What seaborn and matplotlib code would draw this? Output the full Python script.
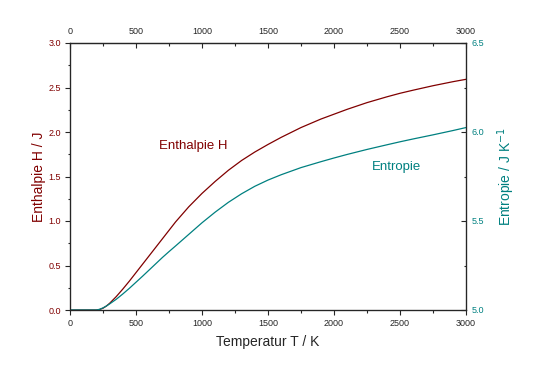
import seaborn as sns
import matplotlib.pyplot as plt
import pandas as pd
from matplotlib.ticker import MultipleLocator, FixedLocator

# values
temperatur = [0, 100, 200, 225, 250, 275, 300, 350, 400, 450, 500, 550, 600, 650,
              700, 750, 800, 900, 1000, 1100, 1200, 1300, 1400, 1500, 1600, 1750,
              1900, 2000, 2100, 2250, 2400, 2500, 2600, 2750, 2900, 3000]
enthalpie = [0, 0, 0, 0.006, 0.02, 0.044, 0.075, 0.15, 0.235, 0.325, 0.42, 0.515,
             0.61, 0.705, 0.80, 0.895, 0.99, 1.16, 1.31, 1.445, 1.57, 1.68, 1.775,
             1.86, 1.94, 2.05, 2.145, 2.20, 2.255, 2.33, 2.395, 2.435, 2.47, 2.52,
             2.565, 2.592]
entropie = [5.0, 5.0, 5.0, 5.004, 5.012, 5.022, 5.034, 5.06, 5.09, 5.122, 5.156,
            5.19, 5.225, 5.26, 5.295, 5.328, 5.36, 5.425, 5.49, 5.55, 5.605, 5.653,
            5.695, 5.73, 5.76, 5.80, 5.833, 5.854, 5.874, 5.902, 5.928, 5.945,
            5.961, 5.984, 6.008, 6.025]

ticks_T = [0, 500, 1000, 1500, 2000, 2500, 3000]

data = pd.DataFrame({"T": temperatur, "H": enthalpie, "S": entropie})

red = "#800000"
teal = "#008080"

sns.set_style("ticks")
plt.rcParams["font.family"] = ["Liberation Sans", "DejaVu Sans"]

fig = plt.figure(figsize=(5.37, 3.74), dpi=100)
ax = fig.add_axes([70 / 537, 1 - 310 / 374, 396 / 537, 267 / 374])

sns.lineplot(data=data, x="T", y="H", color=red, lw=0.9, ax=ax)
ax.set_xlim(0, 3000)
ax.set_ylim(0, 3.0)
ax.xaxis.set_major_locator(FixedLocator(ticks_T))
ax.xaxis.set_minor_locator(MultipleLocator(250))
ax.yaxis.set_major_locator(MultipleLocator(0.5))
ax.yaxis.set_minor_locator(MultipleLocator(0.25))
ax.yaxis.set_major_formatter(plt.FormatStrFormatter("%.1f"))
ax.tick_params(which="major", direction="out", length=3.6, width=0.8, labelsize=6.5, pad=3)
ax.tick_params(which="minor", direction="out", length=1.8, width=0.8)
ax.tick_params(axis="y", labelcolor=red)
ax.set_xlabel("Temperatur T / K", fontsize=10, labelpad=5)
ax.set_ylabel("Enthalpie H / J", fontsize=10, color=red, labelpad=2)
for s in ax.spines.values():
    s.set_linewidth(0.9)

# right axis for entropy
ax2 = ax.twinx()
sns.lineplot(data=data, x="T", y="S", color=teal, lw=0.9, ax=ax2)
ax2.set_ylim(5.0, 6.5)
ax2.yaxis.set_major_locator(MultipleLocator(0.5))
ax2.yaxis.set_minor_locator(MultipleLocator(0.25))
ax2.yaxis.set_major_formatter(plt.FormatStrFormatter("%.1f"))
ax2.tick_params(which="major", direction="in", length=3.6, width=0.8, labelsize=6.5,
                pad=4, labelcolor=teal)
ax2.tick_params(which="minor", direction="in", length=1.8, width=0.8)
ax2.set_ylabel("Entropie / J K$^{-1}$", fontsize=10, color=teal, labelpad=8)
ax2.set_xlabel("")

# top axis
top = ax.secondary_xaxis("top")
top.xaxis.set_major_locator(FixedLocator(ticks_T))
top.xaxis.set_minor_locator(MultipleLocator(250))
top.tick_params(which="major", direction="in", length=3.6, width=0.8, labelsize=6.5, pad=5)
top.tick_params(which="minor", direction="in", length=1.8, width=0.8)

ax.text(932, 1.84, "Enthalpie H", color=red, fontsize=9.5, ha="center", va="center")
ax.text(2470, 1.61, "Entropie", color=teal, fontsize=9.5, ha="center", va="center")

fig.savefig("out.png", dpi=100)
